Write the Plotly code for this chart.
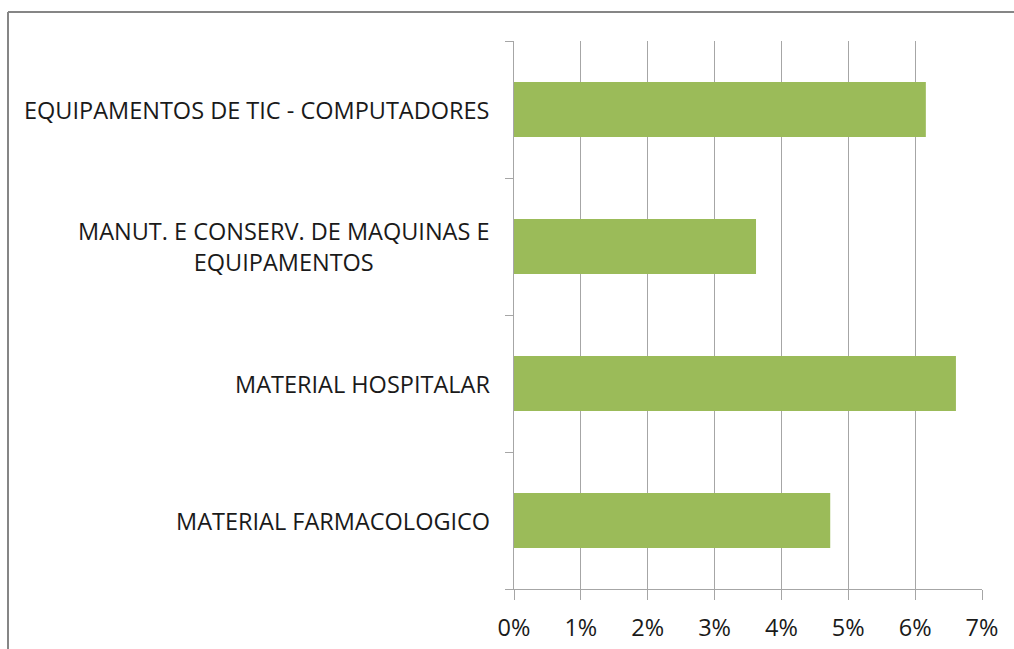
import plotly.graph_objects as go

categories = [
    "EQUIPAMENTOS DE TIC - COMPUTADORES",
    "MANUT. E CONSERV. DE MAQUINAS E<br>EQUIPAMENTOS",
    "MATERIAL HOSPITALAR",
    "MATERIAL FARMACOLOGICO",
]
values = [0.0616, 0.0362, 0.0661, 0.0473]
x_ticks = [0, 0.01, 0.02, 0.03, 0.04, 0.05, 0.06, 0.07]
x_tick_labels = ["0%", "1%", "2%", "3%", "4%", "5%", "6%", "7%"]

W, H = 1014, 649
ML, MR, MT, MB = 514, 32, 41, 60
FONT = "Open Sans"
TXT = "#1a1a1a"
GRID = "#a6a6a6"

fig = go.Figure(go.Bar(
    y=categories, x=values, orientation="h",
    marker=dict(color="#9bbb59", line=dict(width=0)),
    width=0.4,
))

for c in categories:
    fig.add_annotation(
        x=0, xref="paper", y=c, yref="y", text=c, showarrow=False,
        xanchor="right", yanchor="middle", align="center", xshift=-22,
        font=dict(family=FONT, size=23.5, color=TXT),
    )

pw = W - ML - MR
ph = H - MT - MB
left_x = (8 - ML) / pw
top_y = (H - MB - 12) / ph
fig.add_shape(type="line", xref="paper", yref="paper",
              x0=left_x, x1=left_x, y0=-0.5, y1=top_y,
              line=dict(color="#868686", width=2))
fig.add_shape(type="line", xref="paper", yref="paper",
              x0=left_x, x1=1.5, y0=top_y, y1=top_y,
              line=dict(color="#868686", width=2))

fig.update_layout(
    width=W, height=H,
    margin=dict(l=ML, r=MR, t=MT, b=MB, autoexpand=False),
    paper_bgcolor="white", plot_bgcolor="white",
    showlegend=False,
    font=dict(family=FONT, size=23.5, color=TXT),
    xaxis=dict(
        range=[0, 0.07], tickvals=x_ticks, ticktext=x_tick_labels,
        showgrid=True, gridcolor=GRID, gridwidth=1,
        showline=True, linecolor=GRID, linewidth=1,
        ticks="outside", ticklen=10, tickcolor=GRID,
        ticklabelstandoff=8, automargin=False,
        zeroline=False, tickfont=dict(family=FONT, size=23.5, color=TXT),
    ),
    yaxis=dict(
        categoryorder="array", categoryarray=categories[::-1],
        showticklabels=False, showgrid=False, automargin=False,
        showline=True, linecolor=GRID, linewidth=1,
        ticks="outside", ticklen=8, tickcolor=GRID, tickson="boundaries",
        zeroline=False,
    ),
)

fig.write_html("out.html")
